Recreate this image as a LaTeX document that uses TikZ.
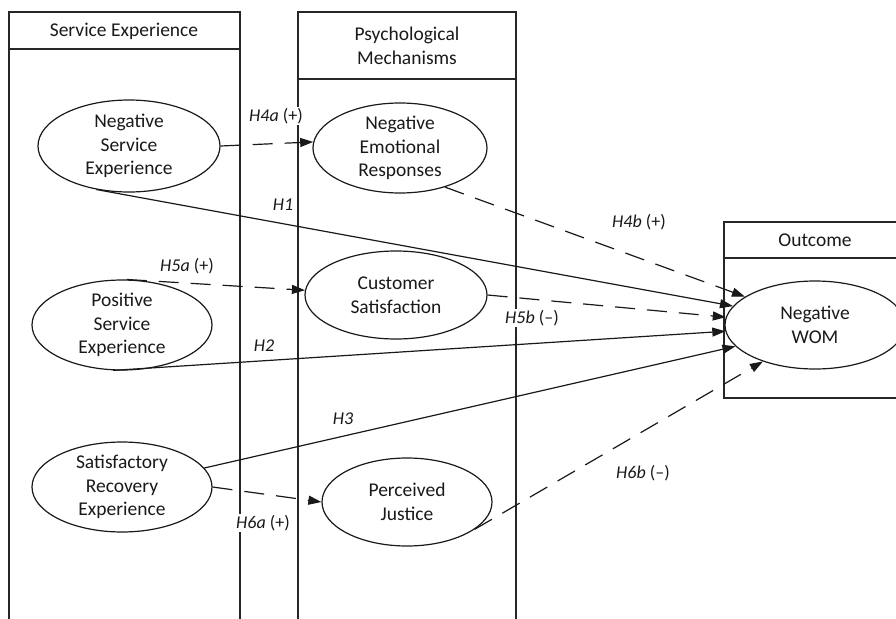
\documentclass[tikz,border=0pt]{standalone}
\usepackage{fontspec}
\setmainfont{Carlito}
\usetikzlibrary{shapes.geometric,arrows.meta}
\tikzset{
  frame/.style={draw=black!85, line width=1.3pt},
  construct/.style={ellipse, draw=black!90, line width=1.2pt, inner sep=0pt, align=center,
    font=\fontsize{19.5}{23.5}\selectfont, text=black!90},
  header/.style={align=center, font=\fontsize{19.5}{23.5}\selectfont, text=black!90},
  hyp/.style={font=\fontsize{18}{20}\selectfont, text=black!90, inner sep=1.5pt, fill=white},
  link/.style={draw=black!90, line width=1.2pt, -{Triangle[length=13pt,width=9pt]}},
  dlink/.style={link, dash pattern=on 20pt off 12pt},
}
\begin{document}
\begin{tikzpicture}[x=1pt,y=-1pt]
\useasboundingbox (0,0) rectangle (896,618);
% boxes
\draw[frame] (9,630) -- (9,12) -- (240,12) -- (240,630);
\draw[frame] (9,49) -- (240,49);
\draw[frame] (298,630) -- (298,12) -- (516,12) -- (516,630);
\draw[frame] (298,79) -- (516,79);
\draw[frame] (910,222) -- (724,222) -- (724,398) -- (910,398);
\draw[frame] (724,258) -- (910,258);
\node[header] (h1) at (124,31) {Service Experience};
\node[header] (h2) at (407,46) {Psychological\\Mechanisms};
\node[header] (h3) at (815,240) {Outcome};
% constructs
\node[construct, minimum width=182pt, minimum height=92pt] (nse) at (129,146) {Negative\\Service\\Experience};
\node[construct, minimum width=174pt, minimum height=90pt] (ner) at (400,148) {Negative\\Emotional\\Responses};
\node[construct, minimum width=180pt, minimum height=89pt] (pse) at (122,325) {Positive\\Service\\Experience};
\node[construct, minimum width=182pt, minimum height=88pt] (cs) at (396,295) {Customer\\Satisfaction};
\node[construct, minimum width=180pt, minimum height=88pt] (sre) at (122,487) {Satisfactory\\Recovery\\Experience};
\node[construct, minimum width=170pt, minimum height=88pt] (pj) at (407,502) {Perceived\\Justice};
\node[construct, minimum width=180pt, minimum height=88pt] (wom) at (815,325) {Negative\\WOM};
% connectors
\draw[dlink] (nse.0) -- (ner.176);
\draw[link] (nse.-127) -- (wom.167);
\draw[dlink] (ner.-41) -- (wom.158);
\draw[dlink] (pse.84) -- (cs.177);
\draw[dlink] (cs.0) -- (wom.175);
\draw[link] (pse.-101) -- (wom.-176);
\draw[link] (sre.13) -- (wom.-165);
\draw[dlink] (sre.0) -- (pj.180);
\draw[dlink] (pj.-22) -- (wom.-145);
% labels
\node[hyp] (l4a) at (276,116) {\textit{H4a} (+)};
\node[hyp, fill=none] (l1) at (283,205) {\textit{H1}};
\node[hyp, fill=none] (l4b) at (639,222) {\textit{H4b} (+)};
\node[hyp, fill=none] (l5a) at (187,266) {\textit{H5a} (+)};
\node[hyp] (l5b) at (532,318) {\textit{H5b} (--)};
\node[hyp, fill=none] (l2) at (264,346) {\textit{H2}};
\node[hyp, fill=none] (l3) at (343,419) {\textit{H3}};
\node[hyp] (l6a) at (263,523) {\textit{H6a} (+)};
\node[hyp, fill=none] (l6b) at (643,473) {\textit{H6b} (--)};
\end{tikzpicture}
\end{document}
